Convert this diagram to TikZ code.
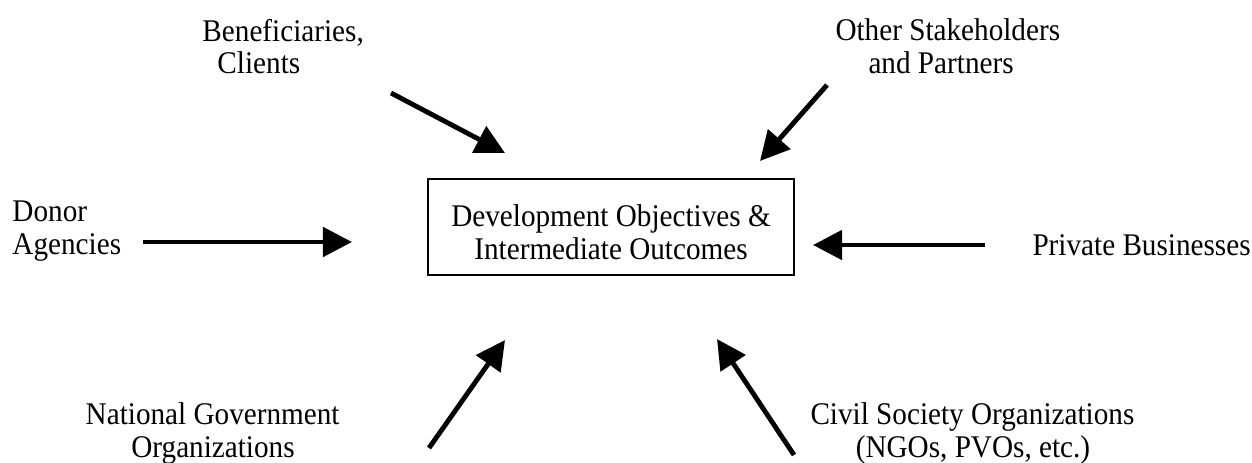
\documentclass[tikz,border=0pt]{standalone}
\usepackage{fontspec}
\usepackage{graphicx}
\setmainfont{Liberation Serif}
\usetikzlibrary{arrows.meta}
\newcommand{\vstretch}[1]{\scalebox{1}[1.08]{#1}}
\begin{document}
\begin{tikzpicture}[x=0.411pt,y=-0.411pt,
  txt/.style={inner sep=0pt, font=\fontsize{12}{13.56}\selectfont},
  lbl/.style={txt, anchor=base west},
  lblc/.style={txt, anchor=base},
  lble/.style={txt, anchor=base east},
  flow/.style={line width=2pt, line cap=butt, -{Triangle[length=12pt,width=12pt]}},
  goalbox/.style={draw, line width=0.8pt, minimum width=150.4pt, minimum height=39.46pt,
    inner sep=0pt, align=center, font=\fontsize{12}{13.56}\selectfont}]
\useasboundingbox (0,0) rectangle (1252,462);

% central box
\node[goalbox] (goal) at (611,227) {\rule{0pt}{13.56pt}\vstretch{Development Objectives \&}\\\vstretch{Intermediate Outcomes}};

% labels
\node[lbl] (ben1) at (202,42) {\vstretch{Beneficiaries,}};
\node[lbl] (ben2) at (217,74) {\vstretch{Clients}};
\node[lbl] (oth1) at (835,41) {\vstretch{Other Stakeholders}};
\node[lbl] (oth2) at (868,74) {\vstretch{and Partners}};
\node[lbl] (don1) at (12,221) {\vstretch{Donor}};
\node[lbl] (don2) at (12,254) {\vstretch{Agencies}};
\node[lbl] (priv) at (1032,255) {\vstretch{Private Businesses}};
\node[lble] (nat1) at (340,424) {\vstretch{National Government}};
\node[lblc] (nat2) at (213,457) {\vstretch{Organizations}};
\node[lbl] (civ1) at (810,424) {\vstretch{Civil Society Organizations}};
\node[lblc] (civ2) at (973,457) {\vstretch{(NGOs, PVOs, etc.)}};

% arrow ends
\coordinate (benT) at (391,93);   \coordinate (benH) at (505,153);
\coordinate (othT) at (827,85);   \coordinate (othH) at (760,161);
\coordinate (donT) at (143,242);  \coordinate (donH) at (352,242);
\coordinate (priT) at (985,245);  \coordinate (priH) at (813,245);
\coordinate (natT) at (429,448);  \coordinate (natH) at (505,340);
\coordinate (civT) at (794,455);  \coordinate (civH) at (717,339);

\draw[flow] (benT) -- (benH);
\draw[flow] (othT) -- (othH);
\draw[flow] (donT) -- (donH);
\draw[flow] (priT) -- (priH);
\draw[flow] (natT) -- (natH);
\draw[flow] (civT) -- (civH);
\end{tikzpicture}
\end{document}
